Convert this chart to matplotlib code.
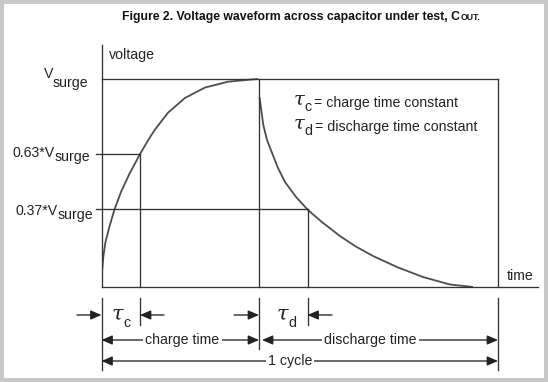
import matplotlib
matplotlib.use("Agg")
import matplotlib.pyplot as plt
from matplotlib import transforms
from matplotlib.patches import Rectangle

# ---------------- data (time in arbitrary units, voltage as fraction of Vsurge)
charge_t = [0.05, 0.18, 0.38, 0.78, 1.28, 1.95, 2.78, 3.85, 4.78, 5.35, 6.65, 8.35, 10.35, 12.65, 14.85, 15.65]
charge_v = [0.072, 0.144, 0.212, 0.288, 0.370, 0.457, 0.543, 0.639, 0.715, 0.757, 0.838, 0.909, 0.959, 0.987, 0.997, 1.0]
discharge_t = [15.80, 15.95, 16.18, 16.55, 17.02, 17.65, 18.35, 19.45, 20.65, 22.05, 23.85, 25.35, 27.15, 29.55, 32.15, 34.85, 37.15]
discharge_v = [0.913, 0.861, 0.779, 0.707, 0.649, 0.572, 0.505, 0.433, 0.370, 0.312, 0.245, 0.197, 0.149, 0.096, 0.048, 0.012, 0.0]

tau_c = 3.85          # charge time constant
charge_end = 15.75    # end of charge time
tau_d_end = 20.6      # charge_end + discharge time constant
cycle_end = 39.65     # end of one cycle
t_max = 43.65         # end of time axis

v_surge = 1.0
v_63 = 0.64
v_37 = 0.373

title_main = "Figure 2. Voltage waveform across capacitor under test, C"
title_sc = "OUT."
level_labels = [("V", "surge"), ("0.63*V", "surge"), ("0.37*V", "surge")]
legend_lines = [("c", "= charge time constant"), ("d", "= discharge time constant")]

# ---------------- figure
W, H = 548, 382
plt.rcParams["font.family"] = ["Liberation Sans", "DejaVu Sans"]
fig = plt.figure(figsize=(W / 100, H / 100), dpi=100)
fig.patch.set_facecolor("#c8c8c8")


def fx(x):
    return x / W


def fy(y):
    return 1 - y / H


fig.patches.append(Rectangle((fx(4), fy(378)), 540 / W, 374 / H, transform=fig.transFigure,
                             facecolor="white", edgecolor="none", zorder=-10))

LC = "#333333"
CC = "#4d4d4d"
LW = 0.95
FS = 10.2

ax = fig.add_axes([fx(101.5), fy(287), (538 - 101.5) / W, (287 - 45) / H])
ax.set_facecolor("none")
ax.set_xlim(0, t_max)
ax.set_ylim(0, (287 - 45) / 208)
for s in ["top", "right"]:
    ax.spines[s].set_visible(False)
for s in ["left", "bottom"]:
    ax.spines[s].set_color(LC)
    ax.spines[s].set_linewidth(LW)
ax.set_xticks([])
ax.set_yticks([])

# curves
ax.plot(charge_t, charge_v, color=CC, lw=1.3, solid_capstyle="butt", solid_joinstyle="round")
ax.plot(discharge_t, discharge_v, color=CC, lw=1.3, solid_capstyle="butt", solid_joinstyle="round")

# reference lines
kw = dict(color=LC, lw=LW, clip_on=False)
ax.plot([0, cycle_end], [v_surge, v_surge], **kw)
ax.plot([cycle_end, cycle_end], [0, v_surge], **kw)
ax.plot([charge_end, charge_end], [0, v_surge], **kw)
ax.plot([-0.55, tau_c], [v_63, v_63], **kw)
ax.plot([tau_c, tau_c], [0, v_63], **kw)
ax.plot([-0.55, tau_d_end], [v_37, v_37], **kw)
ax.plot([tau_d_end, tau_d_end], [0, v_37], **kw)

bt = transforms.blended_transform_factory(ax.transData, fig.transFigure)

# extension lines below the axis
for x, yb in [(0, 370), (tau_c, 325), (charge_end, 349), (tau_d_end, 325), (cycle_end, 370)]:
    ax.plot([x, x], [fy(298), fy(yb)], transform=bt, **kw)

AP = dict(color="#222222", lw=LW, shrinkA=0, shrinkB=0, mutation_scale=10)
HEAD = "head_length=0.65,head_width=0.28"


def arrow(x_tail, x_head, y):
    ax.annotate("", xy=(x_head, fy(y)), xytext=(x_tail, fy(y)), xycoords=bt, textcoords=bt,
                arrowprops=dict(arrowstyle="-|>," + HEAD, **AP),
                annotation_clip=False)


def dim(x0, x1, y, text, xc):
    ax.annotate("", xy=(x1, fy(y)), xytext=(x0, fy(y)), xycoords=bt, textcoords=bt,
                arrowprops=dict(arrowstyle="<|-|>," + HEAD, **AP),
                annotation_clip=False)
    ax.text(xc, fy(y), text, transform=bt, ha="center", va="center", fontsize=FS, color="#222222",
            bbox=dict(facecolor="white", edgecolor="none", pad=1.6), zorder=5)


# tau rows
y_tau = 315
arrow(-2.45, 0, y_tau)
arrow(6.25, tau_c, y_tau)
arrow(charge_end - 2.5, charge_end, y_tau)
arrow(tau_d_end + 2.45, tau_d_end, y_tau)

dim(0, charge_end, 340, "charge time", 8.1)
dim(charge_end + 0.3, cycle_end, 340, "discharge time", 26.9)
dim(0, cycle_end, 361, "1 cycle", 18.85)

renderer = fig.canvas.get_renderer()
TC = "#222222"


def tau_label(x_left, y_base, sub, sub_base, fs_tau=14):
    t = fig.text(fx(x_left), fy(y_base), "τ", family=["DejaVu Serif"], style="italic",
                 fontsize=fs_tau, ha="left", va="baseline", color=TC)
    bb = t.get_window_extent(renderer)
    s = fig.text(bb.x1 / W, fy(sub_base), sub, fontsize=FS, ha="left", va="baseline", color=TC)
    return s.get_window_extent(renderer)


def sub_label(x_right, base_main, base_sub, main, sub):
    s = fig.text(fx(x_right), fy(base_sub), sub, fontsize=FS, ha="right", va="baseline", color=TC)
    bb = s.get_window_extent(renderer)
    fig.text(bb.x0 / W, fy(base_main), main, fontsize=FS, ha="right", va="baseline", color=TC)


# level labels
sub_label(88.5, 78, 87.5, *level_labels[0])
sub_label(90.5, 157, 161, *level_labels[1])
sub_label(93, 215, 219.5, *level_labels[2])

# axis labels
fig.text(fx(109), fy(59.5), "voltage", fontsize=FS, ha="left", va="baseline", color=TC)
fig.text(fx(507), fy(280), "time", fontsize=FS, ha="left", va="baseline", color=TC)

# legend
for (sub, txt), yb in zip(legend_lines, [107, 131]):
    bb = tau_label(294, yb - 2, sub, yb + 4)
    fig.text(bb.x1 / W + 2.5 / W, fy(yb), txt, fontsize=FS, ha="left", va="baseline", color=TC)

# tau labels on the dimension row
tau_label(111.5, 320, "c", 327, fs_tau=15)
tau_label(276.5, 320, "d", 327, fs_tau=15)

# title
tm = fig.text(fx(460), fy(20), title_main, fontsize=8.8, fontweight="bold", ha="right", va="baseline",
              color="#111111")
fig.text(fx(460.5), fy(20), title_sc, fontsize=6.3, fontweight="bold", ha="left", va="baseline",
         color="#111111")

fig.savefig("out.png", dpi=100, facecolor=fig.get_facecolor())
